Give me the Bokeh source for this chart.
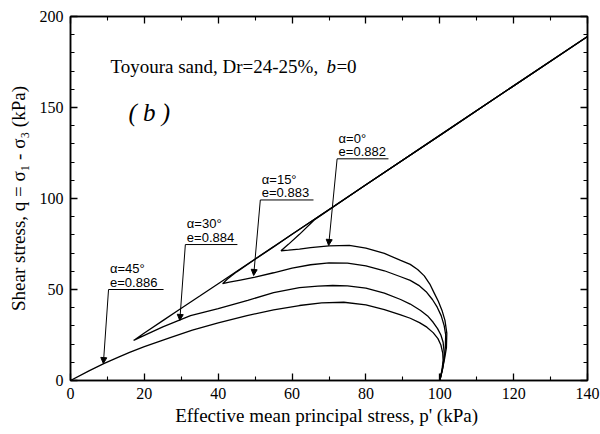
from bokeh.plotting import figure
from bokeh.models import LinearAxis, Range1d, Arrow, NormalHead, FixedTicker, Label, CustomLabelingPolicy
from bokeh.embed import file_html
from bokeh.resources import INLINE

# ---- data (p' , q in kPa) ----
p_a0 = [100, 100.7, 101.3, 101.8, 101.9, 101.4, 100.6, 99.6, 98.5, 97.3, 95.8, 94, 92, 89.4, 85, 80, 75.5, 70, 65,
        62, 59, 57, 59, 62, 66, 80, 100, 120, 140]
q_a0 = [0, 6, 12, 18, 26, 33, 38.5, 43.5, 48, 53, 57.5, 61, 63.8, 66, 69.8, 72.7, 74.2, 74, 73, 72.2, 71.6, 71.3,
        74.8, 80.3, 88.2, 107.6, 134.7, 161.9, 189]

p_a15 = [100, 100.7, 101.2, 101.5, 101.6, 101.2, 100.4, 99.3, 98, 96.3, 94.3, 92, 89.4, 85, 80, 75, 70, 65, 60, 55,
         50, 46, 43, 41.2, 42.5, 45, 50, 55, 60, 66, 80, 100, 120, 140]
q_a15 = [0, 6, 12, 18, 25, 30, 35.5, 40.3, 44.5, 48.8, 52.3, 55, 57, 60.3, 63, 64.5, 64.6, 63.6, 61.8, 59.2,
         56.8, 55.2, 54, 53.2, 55.8, 59.7, 66.6, 73.4, 80.4, 88.5, 107.6, 134.7, 161.9, 189]

p_a30 = [100, 100.7, 101.1, 101.2, 100.9, 100.3, 99.4, 98.2, 96.7, 94.8, 92, 89.4, 85, 80, 75, 71, 67, 62, 55, 48,
         40, 32.5, 25, 20, 17.1, 20, 25, 30, 35, 40, 50, 60, 80, 100, 120, 140]
q_a30 = [0, 6, 12, 15, 21, 25, 28.5, 32, 35.5, 38.5, 42, 44.5, 48, 50.7, 52, 52.2, 51.8, 51, 48.3, 44, 39.5,
         35.7, 29.5, 24.8, 22, 26.1, 32.9, 39.7, 46.4, 53.2, 66.8, 80.4, 107.6, 134.7, 161.9, 189]

p_a45 = [100, 100.6, 100.9, 100.8, 100.3, 99.5, 98.2, 96.5, 94.5, 92, 89.4, 85, 80, 74, 68, 62, 55, 47.8, 40, 33,
         27, 20, 16, 13, 9, 5, 0]
q_a45 = [0, 6, 11, 15, 19.5, 23, 26.3, 29.3, 31.8, 34.2, 36, 39, 41.5, 43, 42.6, 41.2, 38.8, 35.7, 31.6, 27.7,
         23.6, 18.6, 15.4, 12.8, 9.3, 5.3, 0]

x_ticks = [0, 20, 40, 60, 80, 100, 120, 140]
x_minor = [10, 30, 50, 70, 90, 110, 130]
y_ticks = [0, 50, 100, 150, 200]
y_minor = [10, 20, 30, 40, 60, 70, 80, 90, 110, 120, 130, 140, 160, 170, 180, 190]

ann_line1 = ["α=0°", "α=15°", "α=30°", "α=45°"]
ann_line2 = ["e=0.882", "e=0.883", "e=0.884", "e=0.886"]
# label anchor (left of underline), underline right end, arrow tip
ann_x = [72.2, 51.4, 31.1, 10.3]
ann_y = [121.8, 99.2, 74.7, 50.0]
ann_xr = [86.1, 65.8, 45.2, 25.2]
tip_x = [69.9, 49.6, 29.6, 8.9]
tip_y = [74.2, 57.7, 33.0, 9.3]

SERIF = "Liberation Serif"
SANS = "Liberation Sans"

p = figure(width=600, height=434, x_range=Range1d(0, 140), y_range=Range1d(0, 200),
           output_backend="svg", toolbar_location=None,
           min_border_left=70, min_border_right=13, min_border_top=16, min_border_bottom=54)
p.grid.visible = False
p.outline_line_color = "black"
p.outline_line_width = 1.5
p.background_fill_color = "white"
p.border_fill_color = "white"

def style_axis(ax, ticks, minor, labels=True):
    ax.ticker = FixedTicker(ticks=ticks, minor_ticks=minor)
    ax.major_tick_in = 7
    ax.major_tick_out = 0
    ax.minor_tick_in = 4
    ax.minor_tick_out = 0
    ax.major_tick_line_width = 1.3
    ax.minor_tick_line_width = 1.1
    ax.axis_line_width = 1.5
    ax.axis_line_color = "black"
    ax.major_tick_line_color = "black"
    ax.minor_tick_line_color = "black"
    ax.major_label_text_font = SERIF
    ax.major_label_text_font_size = "16px"
    ax.major_label_text_color = "black"
    ax.axis_label_text_font = SERIF
    ax.axis_label_text_font_size = "19px"
    ax.axis_label_text_font_style = "normal"
    ax.axis_label_text_color = "black"
    if labels:
        ax.major_label_standoff = 7
    else:
        ax.major_label_overrides = {t: "" for t in ticks}
        ax.major_label_policy = CustomLabelingPolicy(code="return new Set()")
        ax.major_label_standoff = 0

xa = p.xaxis[0]
ya = p.yaxis[0]
style_axis(xa, x_ticks, x_minor)
style_axis(ya, y_ticks, y_minor)
xa.axis_label = "Effective mean principal stress,  p' (kPa)"
ya.axis_label = "Shear stress, q = σ₁ - σ₃ (kPa)"
xa.axis_label_standoff = 3
ya.axis_label_standoff = 8

top = LinearAxis()
style_axis(top, x_ticks, x_minor, labels=False)
p.add_layout(top, "above")
right = LinearAxis()
style_axis(right, y_ticks, y_minor, labels=False)
p.add_layout(right, "right")

for px, qy in [(p_a0, q_a0), (p_a15, q_a15), (p_a30, q_a30), (p_a45, q_a45)]:
    p.line(px, qy, line_color="black", line_width=1.3)

# annotations
for i in range(4):
    p.segment(x0=[ann_x[i]], y0=[ann_y[i]], x1=[ann_xr[i]], y1=[ann_y[i]], line_color="black", line_width=1)
    p.add_layout(Arrow(end=NormalHead(size=6, fill_color="black", line_color="black", line_width=1),
                       x_start=ann_x[i], y_start=ann_y[i], x_end=tip_x[i], y_end=tip_y[i],
                       line_color="black", line_width=1))
    p.add_layout(Label(x=ann_x[i] + 0.4, y=ann_y[i] + 4.0, text=ann_line2[i], text_font=SANS,
                       text_font_size="13px", text_baseline="middle", text_color="black"))
    p.add_layout(Label(x=ann_x[i] + 0.4, y=ann_y[i] + 11.3, text=ann_line1[i], text_font=SANS,
                       text_font_size="13px", text_baseline="middle", text_color="black"))

p.add_layout(Label(x=10.8, y=172.5, text="Toyoura sand, Dr=24-25%,", text_font=SERIF,
                   text_font_size="19px", text_baseline="alphabetic", text_color="black"))
p.add_layout(Label(x=69.3, y=172.5, text="b", text_font=SERIF, text_font_style="italic",
                   text_font_size="19px", text_baseline="alphabetic", text_color="black"))
p.add_layout(Label(x=72.0, y=172.5, text="=0", text_font=SERIF,
                   text_font_size="19px", text_baseline="alphabetic", text_color="black"))
p.add_layout(Label(x=15.7, y=147, text="( b )", text_font=SERIF, text_font_style="italic",
                   text_font_size="25px", text_baseline="middle", text_color="black"))

open("out.html", "w").write(file_html(p, INLINE))
